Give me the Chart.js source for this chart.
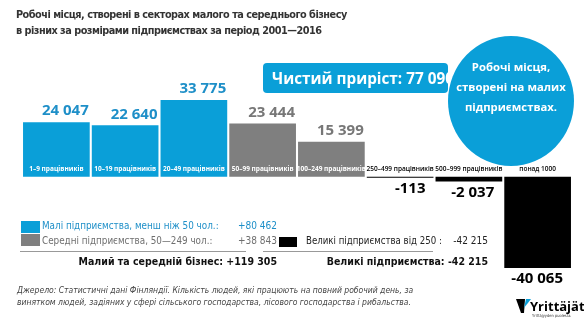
<!DOCTYPE html>
<html>
<head>
<meta charset="utf-8">
<script src="https://cdn.jsdelivr.net/npm/chart.js@4.4.1/dist/chart.umd.min.js"></script>
<style>
  html, body { margin: 0; padding: 0; background: #fff; }
  #wrap { position: relative; width: 584px; height: 324px; overflow: hidden;
          font-family: "DejaVu Sans Condensed", "DejaVu Sans", sans-serif; }
  #c { position: absolute; left: 0; top: 0; }
  .t { position: absolute; white-space: nowrap; }
  .sq { position: absolute; }
</style>
</head>
<body>
<div id="wrap">
  <canvas id="c" width="584" height="324"></canvas>

  <div class="t" id="title" style="left:16px; top:7px; font-size:10.8px; letter-spacing:-0.5px; line-height:16px; font-weight:bold; color:#333;">
    Робочі місця, створені в секторах малого та середнього бізнесу<br>
    в різних за розмірами підприємствах за період 2001—2016
  </div>

  <div id="netBox" style="position:absolute; left:263px; top:63px; width:185px; height:30px; background:#0a9fd8; border-radius:4px;"></div>
  <div class="t" id="netText" style="left:272px; top:63px; line-height:30px; font-family:'Open Sans'; font-weight:bold; font-size:15.3px; color:#fff;"></div>

  <div id="bubble" style="position:absolute; left:448px; top:36px; width:126px; height:130px; border-radius:50%; background:#0a9fd8;"></div>
  <div class="t" style="left:448px; top:57px; width:126px; text-align:center; line-height:20px; font-family:'Open Sans'; font-weight:bold; font-size:11.3px; color:#fff;">
    Робочі місця,<br>створені на малих<br>підприємствах.
  </div>

  <!-- legend / totals -->
  <div class="sq" style="left:21px; top:221px; width:19px; height:12px; background:#0a9fd8;"></div>
  <div class="sq" style="left:21px; top:234px; width:19px; height:12px; background:#7f7f7f;"></div>
  <div class="sq" style="left:279px; top:237px; width:18px; height:10px; background:#000;"></div>

  <div class="t" style="left:42px; top:219px; font-size:9.8px; line-height:14px; color:#1e8fc8;">Малі підприємства, менш ніж 50 чол.:</div>
  <div class="t" id="smallVal" style="right:307px; top:219px; font-size:10px; line-height:14px; color:#1e8fc8;"></div>
  <div class="t" style="left:42px; top:234px; font-size:9.8px; line-height:14px; color:#6f6f6f;">Середні підприємства, 50—249 чол.:</div>
  <div class="t" id="mediumVal" style="right:307px; top:234px; font-size:10px; line-height:14px; color:#6f6f6f;"></div>
  <div class="t" style="left:306px; top:234px; font-size:9.6px; line-height:14px; color:#222;">Великі підприємства від 250 :</div>
  <div class="t" id="largeVal" style="right:96px; top:234px; font-size:10px; line-height:14px; color:#222;"></div>

  <div style="position:absolute; left:20px; top:251px; width:226px; height:1px; background:#999;"></div>
  <div style="position:absolute; left:263px; top:251px; width:170px; height:1px; background:#999;"></div>

  <div class="t" id="smeTotal" style="right:307px; top:254px; font-size:10.5px; line-height:14px; font-weight:bold; color:#111;"></div>
  <div class="t" id="largeTotal" style="right:96px; top:254px; font-size:10.5px; line-height:14px; font-weight:bold; color:#111;"></div>

  <div class="t" style="left:17px; top:284px; font-size:8.5px; line-height:12px; font-style:italic; color:#444;">
    Джерело: Статистичні дані Фінляндії. Кількість людей, які працюють на повний робочий день, за<br>
    винятком людей, задіяних у сфері сільського господарства, лісового господарства і рибальства.
  </div>

  <!-- logo -->
  <svg style="position:absolute; left:516px; top:299px;" width="16" height="14" viewBox="0 0 16 14">
    <polygon points="0,0 9,0 8,14 5,14" fill="#000"/>
    <polygon points="10,0 15,0 8,9" fill="#0a9fd8"/>
  </svg>
  <div class="t" style="left:530px; top:298px; font-family:'Open Sans'; font-weight:bold; font-size:13px; line-height:16px; color:#000;">Yrittäjät</div>
  <div class="t" style="left:532px; top:313px; font-size:4px; line-height:5px; color:#333;">Yrittäjyyden puolesta.</div>
</div>

<script>
// Jobs created 2001–2016 by company size
const categories = ['1–9 працівників', '10–19 працівників', '20–49 працівників',
                    '50–99 працівників', '100–249 працівників',
                    '250–499 працівників', '500–999 працівників', 'понад 1000'];
const jobs = [24047, 22640, 33775, 23444, 15399, -113, -2037, -40065];
const sizeGroup = ['small', 'small', 'small', 'medium', 'medium', 'large', 'large', 'large'];

const barColors = { small: '#0a9fd8', medium: '#7f7f7f', large: '#000000' };
const valueColors = { small: '#1e8fc8', medium: '#777777', large: '#000000' };

function fmt(v) {
  const s = String(Math.abs(v)).replace(/\B(?=(\d{3})+(?!\d))/g, ' ');
  return (v < 0 ? '-' : '') + s;
}
function sumOf(group) {
  return jobs.reduce((a, v, i) => sizeGroup[i] === group ? a + v : a, 0);
}
const smallSum = sumOf('small');
const mediumSum = sumOf('medium');
const largeSum = sumOf('large');
const smeSum = smallSum + mediumSum;
const netSum = smeSum + largeSum;

document.getElementById('smallVal').textContent = '+' + fmt(smallSum);
document.getElementById('mediumVal').textContent = '+' + fmt(mediumSum);
document.getElementById('largeVal').textContent = fmt(largeSum);
document.getElementById('smeTotal').textContent = 'Малий та середній бізнес:  +' + fmt(smeSum);
document.getElementById('largeTotal').textContent = 'Великі підприємства: ' + fmt(largeSum);
document.getElementById('netText').textContent = 'Чистий приріст: ' + fmt(netSum);

// value above/below each bar plus the size label sitting on the zero line
const barLabels = {
  id: 'barLabels',
  afterDatasetsDraw(chart) {
    const ctx = chart.ctx;
    const meta = chart.getDatasetMeta(0);
    const zeroY = chart.scales.y.getPixelForValue(0);
    meta.data.forEach((bar, i) => {
      const v = jobs[i];
      const p = bar.getProps(['x', 'y', 'width'], true);
      const right = p.x + p.width / 2;
      ctx.save();
      ctx.textBaseline = 'middle';
      ctx.textAlign = 'right';
      ctx.font = 'bold 15px "Open Sans"';
      if (v >= 0) {
        ctx.fillStyle = valueColors[sizeGroup[i]];
        ctx.fillText(fmt(v), right - 1, p.y - 11);
      } else {
        ctx.fillStyle = '#000';
        ctx.fillText(fmt(v), right - 8, Math.max(p.y, zeroY + 1) + 11);
      }
      ctx.textAlign = 'center';
      ctx.font = (v >= 0 ? 'bold' : '600') + ' 6.5px "Open Sans"';
      ctx.fillStyle = v >= 0 ? '#ffffff' : '#000000';
      ctx.fillText(categories[i], p.x, zeroY - 8);
      ctx.restore();
    });
  }
};

new Chart(document.getElementById('c'), {
  type: 'bar',
  data: {
    labels: categories,
    datasets: [{
      data: jobs,
      backgroundColor: sizeGroup.map(g => barColors[g]),
      borderWidth: 0,
      barPercentage: 0.97,
      categoryPercentage: 1,
      minBarLength: 1
    }]
  },
  options: {
    responsive: false,
    animation: false,
    layout: { padding: { left: 22, right: 12, top: 100, bottom: 56 } },
    plugins: { legend: { display: false }, tooltip: { enabled: false } },
    scales: {
      x: { display: false },
      y: { display: false, min: -40065, max: 33775 }
    }
  },
  plugins: [barLabels]
});
</script>
</body>
</html>
